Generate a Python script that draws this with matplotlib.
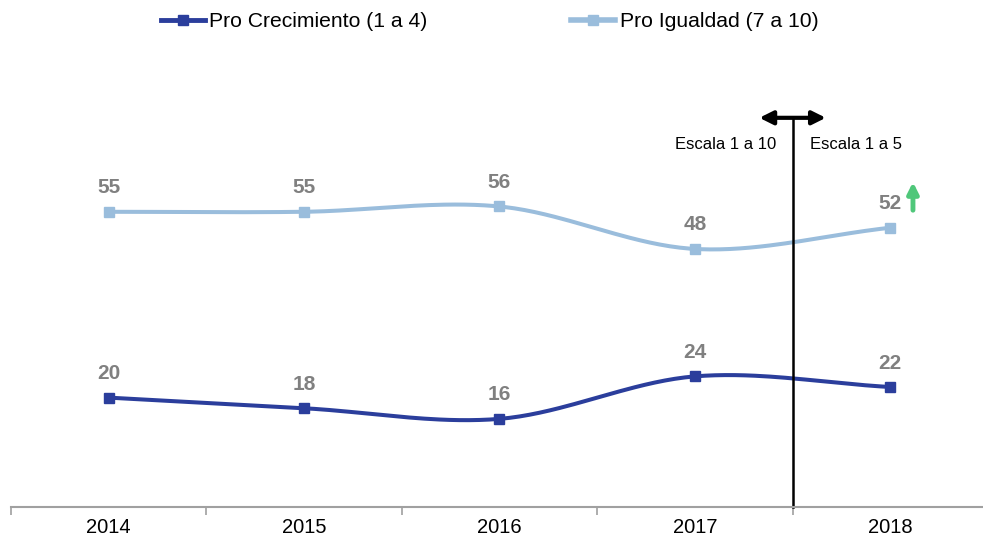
import numpy as np
import matplotlib
matplotlib.use('Agg')
import matplotlib.pyplot as plt

plt.rcParams['font.family'] = ['Liberation Sans', 'DejaVu Sans']

years = ['2014', '2015', '2016', '2017', '2018']
crecimiento = [20, 18, 16, 24, 22]
igualdad = [55, 55, 56, 48, 52]

dark_blue = '#2B3E9C'
light_blue = '#9ABDDC'
label_grey = '#808080'


def smooth(xs, ys, n=40):
    '''Catmull-Rom curve through the points, like the smoothed lines in Excel.'''
    xs = np.asarray(xs, float)
    ys = np.asarray(ys, float)
    px = np.concatenate([[2 * xs[0] - xs[1]], xs, [2 * xs[-1] - xs[-2]]])
    py = np.concatenate([[2 * ys[0] - ys[1]], ys, [2 * ys[-1] - ys[-2]]])
    outx, outy = [], []
    t = np.linspace(0, 1, n)
    for i in range(1, len(px) - 2):
        for p, out in ((px, outx), (py, outy)):
            p0, p1, p2, p3 = p[i - 1], p[i], p[i + 1], p[i + 2]
            out.extend(0.5 * ((2 * p1) + (-p0 + p2) * t
                              + (2 * p0 - 5 * p1 + 4 * p2 - p3) * t ** 2
                              + (-p0 + 3 * p1 - 3 * p2 + p3) * t ** 3))
    return np.array(outx), np.array(outy)


fig = plt.figure(figsize=(9.83, 5.41), dpi=100)
W, H = 983.0, 541.0
ax = fig.add_axes([11 / W, (H - 507) / H, 977 / W, (507 - 61) / H])

x = np.arange(len(years))
for vals, color in ((crecimiento, dark_blue), (igualdad, light_blue)):
    sx, sy = smooth(x, vals)
    ax.plot(sx, sy, color=color, lw=2.9, solid_capstyle='round')
    ax.plot(x, vals, 's', color=color, ms=7.3)
    for xi, v in zip(x, vals):
        ax.annotate(str(v), (xi, v), xytext=(0, 24), textcoords='offset pixels',
                    ha='center', va='center', fontsize=15, fontweight='bold',
                    color=label_grey)

ax.set_xlim(-0.5, 4.5)
ax.set_ylim(-0.6, 83.4)

# category axis: labels centred, ticks between categories
ax.set_xticks(x)
ax.set_xticklabels(years, fontsize=14.5)
ax.set_xticks(np.arange(-0.5, 5, 1), minor=True)
ax.tick_params(axis='x', which='major', length=0, pad=8)
ax.tick_params(axis='x', which='minor', length=6, width=1.2, color='#A0A0A0')
ax.set_yticks([])
for s in ['top', 'right', 'left']:
    ax.spines[s].set_visible(False)
ax.spines['bottom'].set_color('#A0A0A0')
ax.spines['bottom'].set_linewidth(1.5)

# scale change marker
ax.plot([3.5, 3.5], [-0.6, 72.7], color='black', lw=1.8, clip_on=False)
ax.annotate('', xy=(3.33, 72.7), xytext=(3.67, 72.7),
            arrowprops=dict(arrowstyle='<|-|>', color='black', lw=3,
                            mutation_scale=20, shrinkA=0, shrinkB=0))
ax.text(3.415, 67.6, 'Escala 1 a 10', ha='right', va='center', fontsize=12)
ax.text(3.59, 67.6, 'Escala 1 a 5', ha='left', va='center', fontsize=12)

# green arrow next to 2018 value
ax.annotate('', xy=(4.116, 60.6), xytext=(4.116, 55.3),
            arrowprops=dict(arrowstyle='-|>', color='#4FC77A', lw=3.5,
                            mutation_scale=16, shrinkA=0, shrinkB=0))

# legend with line + marker handles
handles = [plt.Line2D([], [], color=dark_blue, lw=3.5, marker='s', ms=7),
           plt.Line2D([], [], color=light_blue, lw=4, marker='s', ms=7)]
fig.legend(handles, ['Pro Crecimiento (1 a 4)', 'Pro Igualdad (7 a 10)'],
           loc='upper left', bbox_to_anchor=(146 / W, 1.005), ncol=2,
           frameon=False, fontsize=15.2, handlelength=2.1, handletextpad=0.2,
           columnspacing=6.8, borderaxespad=0.3)

fig.savefig('out.png', dpi=100)
